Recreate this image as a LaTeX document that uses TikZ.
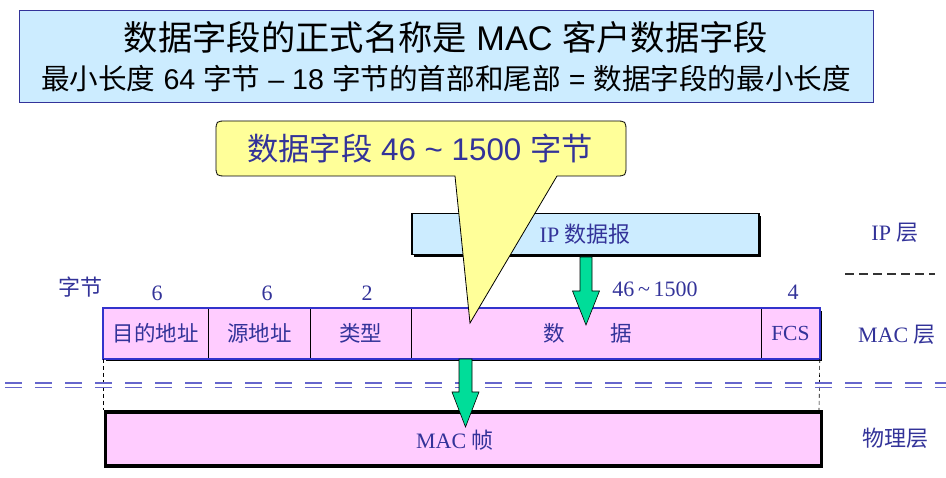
\documentclass[tikz,border=0pt]{standalone}
\usepackage{fontspec}
\setmainfont{Liberation Serif}
\newfontfamily\cjkfont{Noto Sans CJK SC}
\newfontfamily\sansfont{Liberation Sans}
\newcommand{\zh}[1]{{\cjkfont #1}}
\usetikzlibrary{calc}
\definecolor{titlebg}{HTML}{CCECFF}
\definecolor{navy}{HTML}{333399}
\definecolor{pinkfill}{HTML}{FFCCFF}
\definecolor{macblue}{HTML}{3333CC}
\definecolor{arrowgreen}{HTML}{00DD99}
\definecolor{calloutfill}{HTML}{FFFF99}
\definecolor{dashblue}{HTML}{6666CC}
\definecolor{darkdash}{HTML}{333333}
\begin{document}
\begin{tikzpicture}[x=1pt,y=-1pt,
  lbl/.style={text=navy, font=\fontsize{22}{25}\selectfont, inner sep=0pt},
  field/.style={draw=black, line width=0.8pt, fill=pinkfill, minimum height=50pt, inner sep=0pt, anchor=north west, text=navy, font=\fontsize{21.5}{24}\selectfont},
  garrow/.style={fill=arrowgreen, draw=black, line width=0.6pt, line join=miter},
  layerdash/.style={dashblue, line width=1.4pt, dash pattern=on 17pt off 13pt},
  guide/.style={black, line width=0.6pt, dash pattern=on 4pt off 3pt},
]
\useasboundingbox (0,0) rectangle (946,478);

% title box
\node[draw=navy, line width=1pt, fill=titlebg, minimum width=854pt, minimum height=92pt, anchor=north west, inner sep=0pt] (title) at (19,10) {};
\node[inner sep=0pt, font=\sansfont\fontsize{34.3}{37}\selectfont] (t1) at (446,37) {\zh{数据字段的正式名称是} MAC \zh{客户数据字段}};
\node[inner sep=0pt, font=\sansfont\fontsize{28.6}{32}\selectfont] (t2) at (446,79) {\zh{最小长度} 64 \zh{字节} – 18 \zh{字节的首部和尾部} = \zh{数据字段的最小长度}};

% IP box with shadow
\fill[black] (414,216) rectangle (761,257);
\node[draw=black, line width=1.5pt, fill=titlebg, minimum width=347pt, minimum height=41pt, anchor=north west, inner sep=0pt, text=navy, font=\fontsize{22}{25}\selectfont] (ip) at (411,213) {IP \zh{数据报}};

% MAC row
\fill[black] (106,311) rectangle (822,361);
\node[field, minimum width=105pt] (f1) at (103,308) {\zh{目的地址}};
\node[field, minimum width=102pt] (f2) at (208,308) {\zh{源地址}};
\node[field, minimum width=101pt] (f3) at (310,308) {\zh{类型}};
\node[field, minimum width=350pt] (f4) at (411,308) {\hspace{3pt}\zh{数}\hspace{45pt}\zh{据}};
\node[field, minimum width=58pt] (f5) at (761,308) {FCS};
\draw[macblue, line width=2.4pt] (f1.north west) rectangle (f5.south east);

% guides and layer separator
\coordinate (gl) at (103,410);
\coordinate (gr) at (819,410);
\draw[guide] (f1.south west) -- (gl);
\draw[guide] (f5.south east) -- (gr);
\draw[layerdash] (5,383) -- (946,383);
\draw[layerdash] (5,387.5) -- (946,387.5);
\coordinate (d1) at (845,274);
\coordinate (d2) at (935,274);
\draw[darkdash, line width=1.2pt, dash pattern=on 9pt off 5pt] (d1) -- (d2);

% MAC frame
\node[draw=black, line width=3.2pt, fill=pinkfill, minimum width=716pt, minimum height=54pt, anchor=north west, inner sep=0pt] (frame) at (103.5,410.5) {};
\node[lbl] (ftxt) at (455,440) {MAC \zh{帧}};

% green arrows
\coordinate (a1s) at (586,257);
\coordinate (a1t) at (586,325);
\coordinate (a2s) at (465.5,359);
\coordinate (a2t) at (465.5,427);
\path[garrow] let \p1=(a1s), \p2=(a1t) in
  (\x1-6pt,\y1) -- (\x1-6pt,\y2+34pt) -- (\x1-13.5pt,\y2+34pt) -- (\x2,\y2) -- (\x1+13.5pt,\y2+34pt) -- (\x1+6pt,\y2+34pt) -- (\x1+6pt,\y1) -- cycle;
\path[garrow] let \p1=(a2s), \p2=(a2t) in
  (\x1-6.5pt,\y1) -- (\x1-6.5pt,\y2+35pt) -- (\x1-13.5pt,\y2+35pt) -- (\x2,\y2) -- (\x1+13.5pt,\y2+35pt) -- (\x1+6.5pt,\y2+35pt) -- (\x1+6.5pt,\y1) -- cycle;

% byte counts and layer labels
\node[lbl] (bytes) at (80,287) {\zh{字节}};
\node[lbl] (n1) at (157,293) {6};
\node[lbl] (n2) at (267,293) {6};
\node[lbl] (n3) at (367,293) {2};
\node[lbl] (n4) at (655,289) {46\,\char"007E\,1500};
\node[lbl] (n5) at (793,292) {4};
\node[lbl] (lip) at (895,233) {IP \zh{层}};
\node[lbl] (lmac) at (897,335) {MAC \zh{层}};
\node[lbl] (lphy) at (895,438) {\zh{物理层}};

% callout
\draw[fill=calloutfill, draw=black, line width=0.8pt, line join=miter]
  (470,323) -- (455,176) -- (227,176) .. controls (216,176) .. (216,165)
  -- (216,132) .. controls (216,121) .. (227,121)
  -- (615,121) .. controls (626,121) .. (626,132)
  -- (626,165) .. controls (626,176) .. (615,176)
  -- (557,176) -- cycle;
\node[inner sep=0pt, text=navy, font=\sansfont\fontsize{31.3}{34}\selectfont] (callout) at (420,149) {\zh{数据字段} 46 \char"007E{} 1500 \zh{字节}};
\end{tikzpicture}
\end{document}
